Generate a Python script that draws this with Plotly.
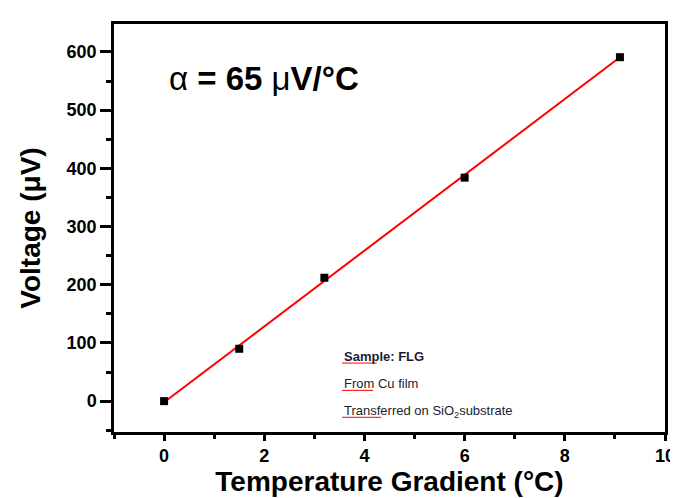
"""Seebeck voltage vs temperature gradient for FLG sample."""

import plotly.graph_objects as go

FONT = dict(family="Liberation Sans, Arial, sans-serif", color="black")

# measured points
grad_c = [0.0, 1.5, 3.2, 6.0, 9.1]
volt_uv = [0.0, 90.0, 212.0, 384.0, 591.0]
volt_err = [5.0, 5.0, 5.0, 5.0, 5.0]

# linear fit endpoints
fit_x = [0.0, 9.1]
fit_y = [-2.0, 591.0]

x_ticks = [0, 2, 4, 6, 8, 10]
y_ticks = [0, 100, 200, 300, 400, 500, 600]

fig = go.Figure()

fig.add_trace(go.Scatter(
    x=fit_x, y=fit_y, mode="lines",
    line=dict(color="#ff0000", width=2),
    hoverinfo="skip",
))

fig.add_trace(go.Scatter(
    x=grad_c, y=volt_uv, mode="markers",
    marker=dict(symbol="square", size=8, color="black"),
    error_y=dict(type="data", array=volt_err, color="#555", thickness=1, width=0),
))

axis_common = dict(
    showgrid=False, zeroline=False, showline=True, mirror=True,
    linecolor="black", linewidth=2.5,
    ticks="outside", tickwidth=2.5, tickcolor="black",
    tickfont=dict(size=18, family=FONT["family"], color="black", weight="bold"),
)

fig.update_xaxes(
    range=[-1, 10], tickvals=x_ticks, ticklen=6,
    minor=dict(tickvals=[-1, 1, 3, 5, 7, 9], ticks="outside", ticklen=4,
               tickwidth=2.5, tickcolor="black"),
    title=dict(text="<b>Temperature Gradient (°C)</b>", font=dict(size=28), standoff=4),
    **axis_common,
)
fig.update_yaxes(
    range=[-53, 648], tickvals=y_ticks, ticklen=11,
    minor=dict(tickvals=[-50, 50, 150, 250, 350, 450, 550], ticks="outside",
               ticklen=5, tickwidth=2.5, tickcolor="black"),
    title=dict(text="<b>Voltage (μV)</b>", font=dict(size=28), standoff=18),
    **axis_common,
)

fig.add_annotation(
    x=0.097, y=0.866, xref="paper", yref="paper", showarrow=False,
    xanchor="left", yanchor="middle",
    text="α <b>= 65 </b>μ<b>V/°C</b>",
    font=dict(size=33, color="black", family=FONT["family"]),
)

notes = ["<b>Sample: FLG</b>", "From Cu film", "Transferred on SiO<sub>2</sub>substrate"]
note_y = [0.186, 0.120, 0.051]
for txt, yy in zip(notes, note_y):
    fig.add_annotation(
        x=0.414, y=yy, xref="paper", yref="paper", showarrow=False,
        xanchor="left", yanchor="middle", text=txt,
        font=dict(size=13, color="#1c1c30", family=FONT["family"]),
    )

# red spell-check underlines under the note words
for x0, x1, yy in [(0.414, 0.477, 0.169), (0.414, 0.47, 0.102), (0.414, 0.485, 0.036)]:
    fig.add_shape(type="line", xref="paper", yref="paper",
                  x0=x0, x1=x1, y0=yy, y1=yy,
                  line=dict(color="#ff0000", width=1))

fig.update_layout(
    width=678, height=498,
    template="plotly_white", paper_bgcolor="white", plot_bgcolor="white",
    font=FONT, showlegend=False,
    margin=dict(l=106, r=11, t=16, b=74),
)

fig.write_html("out.html")
